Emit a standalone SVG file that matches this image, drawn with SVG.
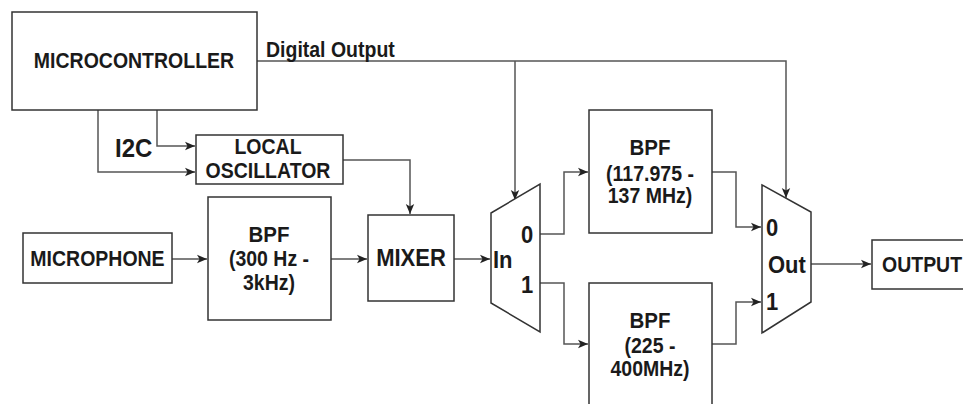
<svg xmlns="http://www.w3.org/2000/svg" width="963" height="404" viewBox="0 0 963 404">
<style>
.box{fill:#fff;stroke:#333;stroke-width:1.5}
.con{fill:none;stroke:#555;stroke-width:1.5}
.t{font-family:"Liberation Sans",Arial,sans-serif;font-size:19.5px;font-weight:bold;fill:#1a1a1a}
.c{text-anchor:middle}
.big{font-size:22px}
</style>
<defs>
<marker id="arr" markerUnits="userSpaceOnUse" markerWidth="11" markerHeight="10" refX="10" refY="5" orient="auto">
<path d="M0,0.8 L10,5 L0,9.2 L2.5,5 Z" fill="#222"/>
</marker>
</defs>
<rect width="963" height="404" fill="#fff"/>
<g id="connectors">
<path class="con" d="M98,110 V172 H195" marker-end="url(#arr)"/>
<path class="con" d="M157,110 V146 H195" marker-end="url(#arr)"/>
<path class="con" d="M257,61 H786 V198" marker-end="url(#arr)"/>
<path class="con" d="M515,61 V200" marker-end="url(#arr)"/>
<path class="con" d="M343,160 H410 V214" marker-end="url(#arr)"/>
<path class="con" d="M172,259 H207" marker-end="url(#arr)"/>
<path class="con" d="M331,259 H367" marker-end="url(#arr)"/>
<path class="con" d="M454,259 H490" marker-end="url(#arr)"/>
<path class="con" d="M540,234 H564 V172 H588" marker-end="url(#arr)"/>
<path class="con" d="M540,283 H564 V344 H588" marker-end="url(#arr)"/>
<path class="con" d="M712,172 H736 V227 H761" marker-end="url(#arr)"/>
<path class="con" d="M712,344 H736 V302 H761" marker-end="url(#arr)"/>
<path class="con" d="M806,264 H871" marker-end="url(#arr)"/>
<text class="t" x="266" y="57" transform="matrix(1 0 0 1.1 0 -5.7)">Digital Output</text>
<text class="t" x="115" y="157" style="font-size:24px" transform="matrix(1 0 0 1.1 0 -15.7)">I2C</text>
</g>
<g id="microcontroller">
<rect class="box" x="12" y="12" width="245" height="98"/>
<text class="t c" x="134" y="68" transform="matrix(1 0 0 1.1 0 -6.8)">MICROCONTROLLER</text>
</g>
<g id="local-oscillator">
<rect class="box" x="196" y="135" width="147" height="49"/>
<text class="t c" x="268" y="154" transform="matrix(1 0 0 1.1 0 -15.4)">LOCAL</text>
<text class="t c" x="268" y="178" transform="matrix(1 0 0 1.1 0 -17.8)">OSCILLATOR</text>
</g>
<g id="microphone">
<rect class="box" x="23" y="233" width="149" height="50"/>
<text class="t c" x="97.5" y="266" transform="matrix(1 0 0 1.1 0 -26.6)">MICROPHONE</text>
</g>
<g id="bpf-audio">
<rect class="box" x="208" y="197" width="123" height="123"/>
<text class="t c" x="269" y="242" style="font-size:20.5px" transform="matrix(1 0 0 1.1 0 -24.2)">BPF</text>
<text class="t c" x="269" y="266" transform="matrix(1 0 0 1.1 0 -26.6)">(300 Hz -</text>
<text class="t c" x="269" y="290" transform="matrix(1 0 0 1.1 0 -29)">3kHz)</text>
</g>
<g id="mixer">
<rect class="box" x="368" y="215" width="86" height="86"/>
<text class="t c big" x="411" y="266" transform="matrix(1 0 0 1.1 0 -26.6)">MIXER</text>
</g>
<g id="mux-in">
<path class="box" d="M491,213 L540,184 L540,332 L491,303 Z"/>
<text class="t big" x="493" y="268" transform="matrix(1 0 0 1.1 0 -26.8)">In</text>
<text class="t big" x="521" y="243" transform="matrix(1 0 0 1.1 0 -24.3)">0</text>
<text class="t big" x="521" y="293" transform="matrix(1 0 0 1.1 0 -29.3)">1</text>
</g>
<g id="bpf-vhf">
<rect class="box" x="589" y="110" width="123" height="123"/>
<text class="t c" x="650" y="155" style="font-size:20.5px" transform="matrix(1 0 0 1.1 0 -15.5)">BPF</text>
<text class="t c" x="650" y="181" transform="matrix(1 0 0 1.1 0 -18.1)">(117.975 -</text>
<text class="t c" x="650" y="203" transform="matrix(1 0 0 1.1 0 -20.3)">137 MHz)</text>
</g>
<g id="bpf-uhf">
<rect class="box" x="589" y="283" width="123" height="125"/>
<text class="t c" x="650" y="328" style="font-size:20.5px" transform="matrix(1 0 0 1.1 0 -32.8)">BPF</text>
<text class="t c" x="650" y="353" transform="matrix(1 0 0 1.1 0 -35.3)">(225 -</text>
<text class="t c" x="650" y="376" transform="matrix(1 0 0 1.1 0 -37.6)">400MHz)</text>
</g>
<g id="mux-out">
<path class="box" d="M762,185 L811,212 L811,302 L762,333 Z"/>
<text class="t big" x="766" y="236" transform="matrix(1 0 0 1.1 0 -23.6)">0</text>
<text class="t big" x="768" y="273" transform="matrix(1 0 0 1.1 0 -27.3)">Out</text>
<text class="t big" x="766" y="310" transform="matrix(1 0 0 1.1 0 -31)">1</text>
</g>
<g id="output">
<rect class="box" x="872" y="240" width="100" height="49"/>
<text class="t" x="882" y="272" transform="matrix(1 0 0 1.1 0 -27.2)">OUTPUT</text>
</g>
</svg>
